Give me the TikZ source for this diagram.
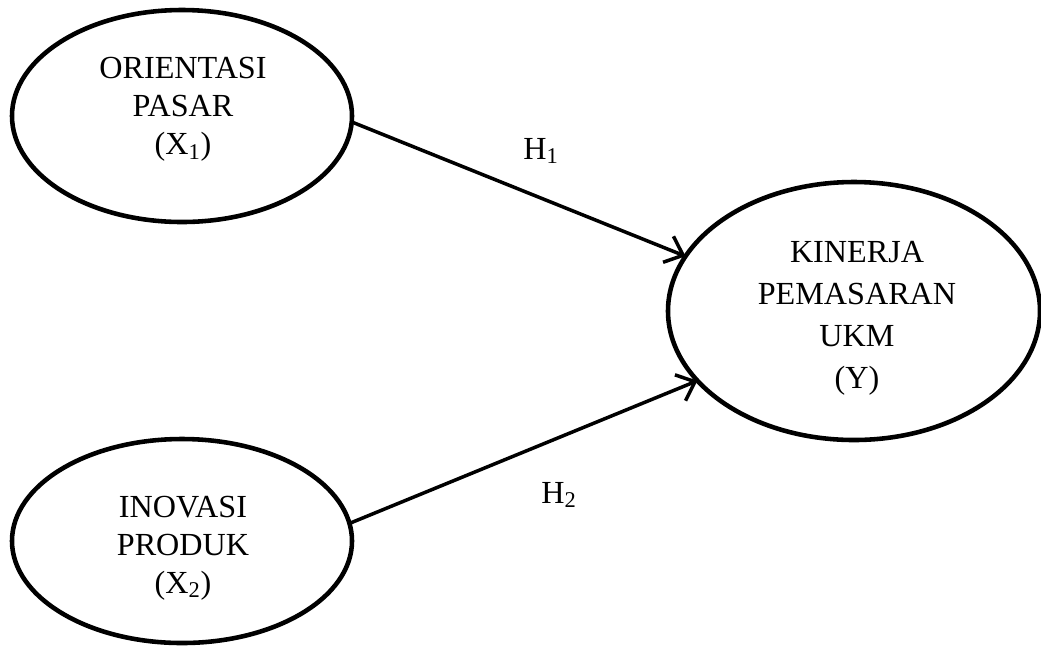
\documentclass[tikz,border=0pt]{standalone}
\usepackage{fontspec}
\setmainfont{Liberation Serif}
\usetikzlibrary{shapes.geometric,arrows.meta}
\begin{document}
\begin{tikzpicture}[
        varbox/.style={draw,ellipse,line width=2.6pt,outer sep=0pt,inner sep=0pt},
        vartext/.style={align=center,inner sep=0pt,font=\fontsize{18.3}{21.5}\selectfont},
        path/.style={line width=2pt,-{Straight Barb[length=3.2mm,width=5.6mm,line width=2pt]}}]
        \useasboundingbox (0,0) rectangle (20.82,-12.92);
        % latent variables
        \node[varbox,minimum width=6.8cm,minimum height=4.24cm] (x1) at (3.64,-2.32) {};
        \node[varbox,minimum width=6.8cm,minimum height=4.08cm] (x2) at (3.64,-10.82) {};
        \node[varbox,minimum width=7.44cm,minimum height=5.16cm] (y) at (17.08,-6.22) {};
        % names
        \node[vartext] (x1txt) at (3.66,-2.19) {ORIENTASI\\PASAR\\(X\textsubscript{1})};
        \node[vartext] (x2txt) at (3.66,-10.96) {INOVASI\\PRODUK\\(X\textsubscript{2})};
        \node[vartext,font=\fontsize{18.3}{24}\selectfont] (ytxt) at (17.14,-6.37)
            {KINERJA\\PEMASARAN\\UKM\\(Y)};
        % hypotheses
        \draw[path] (x1.-2) -- (y.162);
        \draw[path] (x2.6) -- (y.204);
        \node[font=\fontsize{18.3}{21.5}\selectfont] (h1) at (10.82,-3.02) {H\textsubscript{1}};
        \node[font=\fontsize{18.3}{21.5}\selectfont] (h2) at (11.18,-9.9) {H\textsubscript{2}};
    \end{tikzpicture}
\end{document}
